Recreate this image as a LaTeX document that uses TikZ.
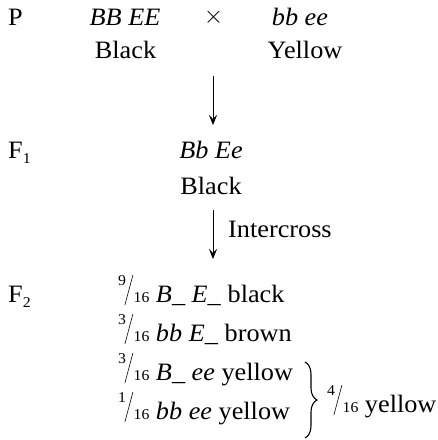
\documentclass[tikz,border=0pt]{standalone}
\usepackage{fontspec}
\setmainfont[FakeStretch=1.05]{Liberation Serif}
\usetikzlibrary{arrows.meta,decorations.pathreplacing}
\newcommand\fr[2]{{\fontsize{15}{15}\selectfont\raisebox{17pt}{#1}}\kern-1.5pt\raisebox{-3pt}{\rotatebox{-15}{\rule{0.6pt}{31pt}}}\kern0.5pt{\fontsize{15}{15}\selectfont #2}}
\newcommand\subn[1]{\raisebox{-5pt}{\fontsize{15}{15}\selectfont #1}}
\tikzset{
  txt/.style={inner sep=0pt, font=\fontsize{25}{30}\selectfont},
  arr/.style={line width=0.8pt, -{Stealth[length=10pt,width=8pt,inset=4pt]}},
  bracestyle/.style={line width=1.1pt, decorate, decoration={brace, amplitude=12pt, aspect=0.5}}
}
\begin{document}
\begin{tikzpicture}[x=1pt,y=-1pt]
\useasboundingbox (0,0) rectangle (438,440);
% P generation
\node[txt, anchor=base west] (P) at (8,25) {P};
\node[txt, anchor=base] (p1g) at (125,25) {\textit{BB EE}};
\node[txt] (cross) at (213.5,17.5) {$\times$};
\node[txt, anchor=base] (p2g) at (300,25) {\textit{bb ee}};
\node[txt, anchor=base] (p1p) at (125.5,58) {Black};
\node[txt, anchor=base] (p2p) at (305,58) {Yellow};
% F1
\node[txt, anchor=base west] (F1) at (8,158) {F\subn{1}};
\node[txt, anchor=base] (f1g) at (211,158) {\textit{Bb Ee}};
\node[txt, anchor=base] (f1p) at (211,194) {Black};
\node[txt, anchor=base west] (inter) at (228,237) {Intercross};
% arrows
\coordinate (a1s) at (213,76);
\coordinate (a1e) at (213,125);
\coordinate (a2s) at (213,210);
\coordinate (a2e) at (213,259);
\draw[arr] (a1s) -- (a1e);
\draw[arr] (a2s) -- (a2e);
% F2
\node[txt, anchor=base west] (F2) at (8,302) {F\subn{2}};
\node[txt, anchor=base west] (r1) at (118,302) {\fr{9}{16} \textit{B\_ E\_} black};
\node[txt, anchor=base west] (r2) at (118,341) {\fr{3}{16} \textit{bb E\_} brown};
\node[txt, anchor=base west] (r3) at (118,380) {\fr{3}{16} \textit{B\_ ee} yellow};
\node[txt, anchor=base west] (r4) at (118,419) {\fr{1}{16} \textit{bb ee} yellow};
\coordinate (bt) at (305,362);
\coordinate (bb) at (305,438);
\draw[bracestyle] (bt) -- (bb);
\node[txt, anchor=base west] (tot) at (327,412) {\fr{4}{16} yellow};
\end{tikzpicture}
\end{document}
